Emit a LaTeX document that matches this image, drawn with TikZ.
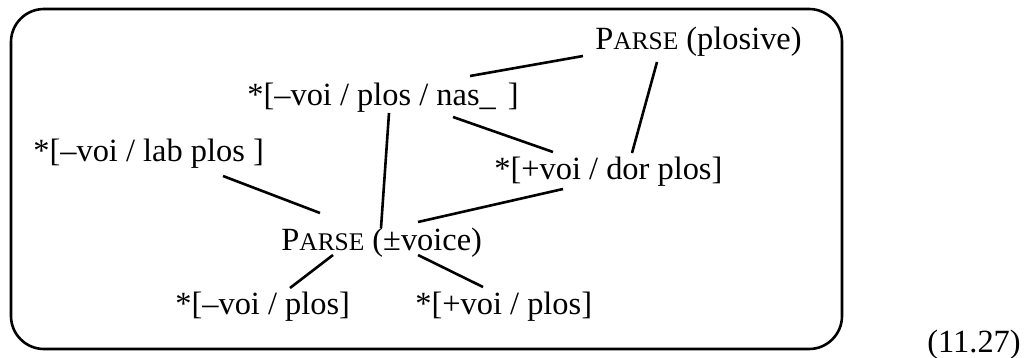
\documentclass[tikz,border=0pt]{standalone}
\usepackage{fontspec}
\setmainfont{Liberation Serif}
\usetikzlibrary{positioning}

\newcommand{\parsesc}{P{\fontsize{12.7}{14}\selectfont ARSE}}

\begin{document}
\begin{tikzpicture}[
	x=0.5pt, y=-0.5pt,
	cand/.style={
		anchor=base west,
		inner sep=0pt,
		font=\fontsize{16.2}{19}\selectfont
	},
	link/.style={
		line width=1.3pt
	},
	frame/.style={
		line width=1.3pt,
		rounded corners=16.5pt
	}
	]
	\useasboundingbox (0,0) rectangle (1026,358);
	\draw[frame] (11,9) rectangle (842,349);
	
	% constraints and candidates, placed at their baselines
	\node[cand] (plosive) at (595,50) {\parsesc{} (plosive)};
	\node[cand] (nas) at (247,105) {*[–voi / plos / nas\_\hspace{2pt} ]};
	\node[cand] (lab) at (33,161) {*[–voi / lab plos ]};
	\node[cand] (dor) at (494,179) {*[+voi / dor plos]};
	\node[cand] (voice) at (281,250) {\parsesc{} (±voice)};
	\node[cand] (minus) at (175,314) {*[–voi / plos]};
	\node[cand] (plus) at (415,314) {*[+voi / plos]};
	
	\node[cand] (eqno) at (927,352) {(11.27)};
	
	\draw[link] ([shift={(223,-29)}]nas.base west) -- ([shift={(-12,6)}]plosive.base west);
	\draw[link] ([shift={(206,12)}]nas.base west) -- ([shift={(59,-27)}]dor.base west);
	\draw[link] ([shift={(142,8)}]nas.base west) -- ([shift={(100,-22)}]voice.base west);
	\draw[link] ([shift={(62,12)}]plosive.base west) -- ([shift={(138,-26)}]dor.base west);
	\draw[link] ([shift={(190,15)}]lab.base west) -- ([shift={(39,-37)}]voice.base west);
	\draw[link] ([shift={(69,10)}]dor.base west) -- ([shift={(137,-28)}]voice.base west);
	\draw[link] ([shift={(52,5)}]voice.base west) -- ([shift={(115,-26)}]minus.base west);
	\draw[link] ([shift={(137,5)}]voice.base west) -- ([shift={(68,-27)}]plus.base west);
\end{tikzpicture}
\end{document}
